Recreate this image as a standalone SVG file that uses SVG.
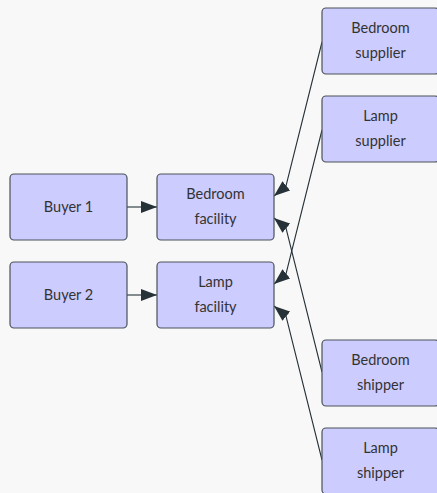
<svg xmlns="http://www.w3.org/2000/svg" width="437" height="493" viewBox="0 0 437 493">
<defs>
<style>
.node rect{fill:#ccccff;stroke:#4a5258;stroke-width:1.2}
.node text{font-family:"Lato","Open Sans","Liberation Sans",sans-serif;font-size:14.5px;fill:#333;text-anchor:middle}
.edge{fill:none;stroke:#263238;stroke-width:1.1}
</style>
<marker id="ah" viewBox="0 0 16 12" refX="16" refY="6" markerWidth="16" markerHeight="12" markerUnits="userSpaceOnUse" orient="auto">
<path d="M0,0 L16,6 L0,12 Z" fill="#263238"/>
</marker>
</defs>
<rect width="437" height="493" fill="#f8f8f8"/>
<g id="connectors">
<path class="edge" d="M127,207 L157,207" marker-end="url(#ah)"/>
<path class="edge" d="M127,295 L157,295" marker-end="url(#ah)"/>
<path class="edge" d="M322,42 L286,186 L274,196" marker-end="url(#ah)"/>
<path class="edge" d="M322,372 L286,228 L274,218" marker-end="url(#ah)"/>
<path class="edge" d="M322,130 L286,274 L274,284" marker-end="url(#ah)"/>
<path class="edge" d="M322,460 L286,316 L274,306" marker-end="url(#ah)"/>
</g>
<g id="buyer1" class="node"><rect x="10" y="174" width="117" height="66" rx="4"/><text x="68.5" y="212">Buyer 1</text></g>
<g id="buyer2" class="node"><rect x="10" y="262" width="117" height="66" rx="4"/><text x="68.5" y="300">Buyer 2</text></g>
<g id="bedroomFacility" class="node"><rect x="157" y="174" width="117" height="66" rx="4"/><text x="215.5" y="199">Bedroom</text><text x="215.5" y="224">facility</text></g>
<g id="lampFacility" class="node"><rect x="157" y="262" width="117" height="66" rx="4"/><text x="215.5" y="287">Lamp</text><text x="215.5" y="312">facility</text></g>
<g id="bedroomSupplier" class="node"><rect x="322" y="8" width="117" height="66" rx="4"/><text x="380.5" y="33">Bedroom</text><text x="380.5" y="58">supplier</text></g>
<g id="lampSupplier" class="node"><rect x="322" y="96" width="117" height="66" rx="4"/><text x="380.5" y="121">Lamp</text><text x="380.5" y="146">supplier</text></g>
<g id="bedroomShipper" class="node"><rect x="322" y="340" width="117" height="66" rx="4"/><text x="380.5" y="365">Bedroom</text><text x="380.5" y="390">shipper</text></g>
<g id="lampShipper" class="node"><rect x="322" y="428" width="117" height="66" rx="4"/><text x="380.5" y="453">Lamp</text><text x="380.5" y="478">shipper</text></g>
</svg>
